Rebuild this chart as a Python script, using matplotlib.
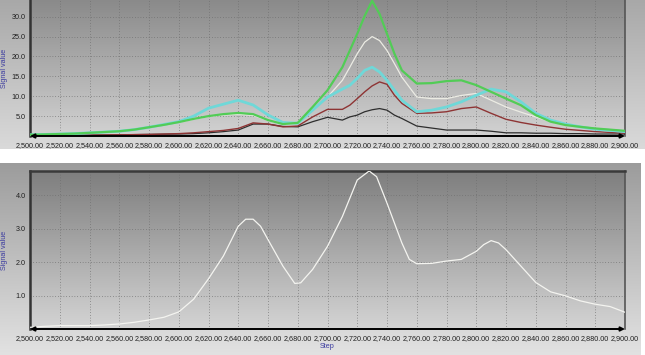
import numpy as np
import matplotlib
matplotlib.use("Agg")
import matplotlib.pyplot as plt
from matplotlib.colors import LinearSegmentedColormap

# ---------------- data ----------------
steps_top = [2500, 2510, 2520, 2530, 2540, 2550, 2560, 2570, 2580, 2590,
             2600, 2610, 2620, 2630, 2640, 2650, 2660, 2670, 2680, 2690,
             2700, 2710, 2715, 2720, 2725, 2730, 2735, 2740, 2745, 2750,
             2760, 2770, 2780, 2790,
             2800, 2810, 2820, 2830, 2840, 2850, 2860, 2870, 2880, 2890, 2900]

green = [0.3, 0.4, 0.5, 0.6, 0.8, 1.0, 1.2, 1.6, 2.2, 2.8,
         3.5, 4.3, 5.0, 5.5, 5.8, 5.5, 4.0, 3.0, 3.3, 7.3,
         11.5, 17.3, 21.5, 25.7, 30.2, 34.0, 30.7, 25.7, 20.7, 16.5,
         13.2, 13.3, 13.8, 14.0,
         12.8, 11.1, 9.4, 7.75, 5.25, 3.6, 2.75, 2.3, 1.9, 1.6, 1.3]

cyan = [0.3, 0.4, 0.5, 0.6, 0.8, 1.0, 1.2, 1.6, 2.2, 2.9,
        3.6, 5.0, 7.0, 8.0, 9.0, 7.8, 5.3, 3.4, 3.2, 6.5,
        9.8, 11.8, 12.75, 14.5, 16.5, 17.3, 16.1, 14.0, 11.5, 9.0,
        6.1, 6.5, 7.3, 8.6,
        10.25, 11.8, 11.1, 8.6, 5.7, 4.0, 3.0, 2.3, 1.7, 1.4, 1.1]

white = [0.3, 0.4, 0.5, 0.6, 0.8, 1.0, 1.2, 1.6, 2.2, 2.8,
         3.5, 4.2, 4.9, 5.3, 5.5, 5.2, 3.9, 2.9, 3.2, 6.5,
         9.8, 14.0, 17.3, 20.7, 23.6, 25.0, 24.0, 21.5, 18.2, 14.8,
         9.8, 9.4, 9.4, 10.2,
         10.7, 9.0, 7.3, 6.0, 4.8, 3.6, 2.75, 2.2, 1.8, 1.5, 1.2]

red = [0.1, 0.1, 0.15, 0.2, 0.2, 0.25, 0.3, 0.35, 0.4, 0.5,
       0.6, 0.8, 1.1, 1.4, 1.9, 3.3, 3.0, 2.3, 2.5, 4.8,
       6.7, 6.7, 7.75, 9.4, 11.1, 12.6, 13.6, 13.0, 10.25, 8.2,
       5.7, 5.8, 6.1, 6.9,
       7.3, 5.7, 4.2, 3.4, 2.75, 2.2, 1.7, 1.4, 1.1, 0.9, 0.7]

black = [0.1, 0.1, 0.15, 0.2, 0.2, 0.25, 0.3, 0.35, 0.4, 0.45,
         0.5, 0.6, 0.8, 1.1, 1.5, 3.0, 3.0, 2.4, 2.3, 3.6,
         4.7, 4.0, 4.8, 5.25, 6.1, 6.6, 6.9, 6.5, 5.25, 4.4,
         2.5, 2.0, 1.5, 1.5,
         1.5, 1.2, 0.8, 0.8, 0.7, 0.7, 0.6, 0.6, 0.5, 0.5, 0.5]

steps_bot = [2500, 2510, 2520, 2530, 2540, 2550, 2560, 2570, 2580, 2590,
             2600, 2610, 2620, 2630, 2640, 2645, 2650, 2655, 2660, 2670,
             2678, 2682, 2690, 2700, 2710, 2720, 2728, 2733, 2740, 2750,
             2755, 2760, 2770, 2780, 2790, 2800, 2805, 2810, 2815, 2820,
             2830, 2840, 2850, 2860, 2870, 2880, 2890, 2900]
signal_bot = [0.05, 0.08, 0.1, 0.1, 0.1, 0.12, 0.15, 0.2, 0.27, 0.35,
              0.51, 0.89, 1.5, 2.18, 3.07, 3.28, 3.28, 3.07, 2.67, 1.88,
              1.36, 1.38, 1.78, 2.47, 3.36, 4.45, 4.72, 4.55, 3.76, 2.57,
              2.08, 1.95, 1.96, 2.03, 2.08, 2.32, 2.52, 2.64, 2.57, 2.37,
              1.88, 1.39, 1.11, 0.99, 0.84, 0.74, 0.67, 0.5]

xticks = list(range(2500, 2901, 20))
xtick_labels = [f"{v:,.2f}" for v in xticks]
yticks_top = [5, 10, 15, 20, 25, 30]
yticks_bot = [1, 2, 3, 4]

# ---------------- figure ----------------
W, H = 645, 355
fig = plt.figure(figsize=(W / 100, H / 100), dpi=100)
fig.patch.set_facecolor("white")
plt.rcParams["font.family"] = ["Liberation Sans", "DejaVu Sans"]

def px_rect(x0, y0, x1, y1):
    return [x0 / W, 1 - y1 / H, (x1 - x0) / W, (y1 - y0) / H]

def gradient(ax, top, bottom, z=0):
    cmap = LinearSegmentedColormap.from_list("g", [bottom, top])
    grad = np.linspace(0, 1, 256).reshape(-1, 1)
    ax.imshow(grad, aspect="auto", cmap=cmap, origin="lower",
              extent=[0, 1, 0, 1], transform=ax.transAxes, zorder=z)

# panel backgrounds
bg1 = fig.add_axes(px_rect(0, 0, W, 149))
gradient(bg1, "#a8a8a8", "#dadada")
bg1.set_axis_off()
bg2 = fig.add_axes(px_rect(0, 163, 641, H))
gradient(bg2, "#9c9c9c", "#e2e2e2")
bg2.set_axis_off()

ax1 = fig.add_axes(px_rect(30, 0, 625, 136))
ax2 = fig.add_axes(px_rect(30, 171, 625, 329))

label_color = "#3c3ca0"
grid_kw = dict(color="#6c6c6c", linestyle=(0, (1.0, 2.6)), linewidth=0.55)

for ax in (ax1, ax2):
    ax.set_xlim(2500, 2900)
    ax.set_xticks(xticks)
    ax.set_xticklabels(xtick_labels, fontsize=5.2, color="#202020")
    ax.tick_params(axis="both", length=0, pad=4)
    ax.tick_params(axis="y", pad=3)
    ax.grid(True, **grid_kw)
    ax.set_axisbelow(True)
    ax.spines["left"].set_color("#333333")
    ax.spines["left"].set_linewidth(1.8)
    ax.spines["right"].set_color("#555555")
    ax.spines["right"].set_linewidth(1.2)
    ax.spines["bottom"].set_visible(False)
    ax.annotate("", xy=(0, 0), xytext=(1, 0), xycoords="axes fraction",
                arrowprops=dict(arrowstyle="<|-|>", color="black", lw=1.4,
                                mutation_scale=6, shrinkA=0, shrinkB=0),
                zorder=10)
    ax.set_ylabel("Signal value", fontsize=5.2, color=label_color)
    ax.yaxis.set_label_coords(-0.037, 0.5)

# top panel
gradient(ax1, "#8a8a8a", "#d2d2d2", z=-5)
ax1.set_ylim(0, 34.2)
ax1.set_yticks(yticks_top)
ax1.set_yticklabels([f"{v:.1f}" for v in yticks_top], fontsize=5.2, color="#202020")
ax1.spines["top"].set_visible(False)
lkw = dict(solid_joinstyle="round", solid_capstyle="round")
ax1.plot(steps_top, black, color="#2e2e2e", lw=0.9, zorder=3, **lkw)
ax1.plot(steps_top, red, color="#8e3434", lw=1.0, zorder=3, **lkw)
ax1.plot(steps_top, white, color="#ecece4", lw=0.9, zorder=4, **lkw)
ax1.plot(steps_top, cyan, color="#6fd8d8", lw=2.0, zorder=4, **lkw)
ax1.plot(steps_top, green, color="#52cc56", lw=1.6, zorder=5, **lkw)

# bottom panel
gradient(ax2, "#7e7e7e", "#d4d4d4", z=-5)
ax2.set_ylim(0, 4.72)
ax2.set_yticks(yticks_bot)
ax2.set_yticklabels([f"{v:.1f}" for v in yticks_bot], fontsize=5.2, color="#202020")
ax2.spines["top"].set_color("#3a3a3a")
ax2.spines["top"].set_linewidth(1.8)
ax2.plot(steps_bot, signal_bot, color="#f4f4f0", lw=0.9, zorder=4, **lkw)
ax2.set_xlabel("Step", fontsize=5.2, color=label_color, labelpad=1)

fig.savefig("out.png", dpi=100, facecolor=fig.get_facecolor())
